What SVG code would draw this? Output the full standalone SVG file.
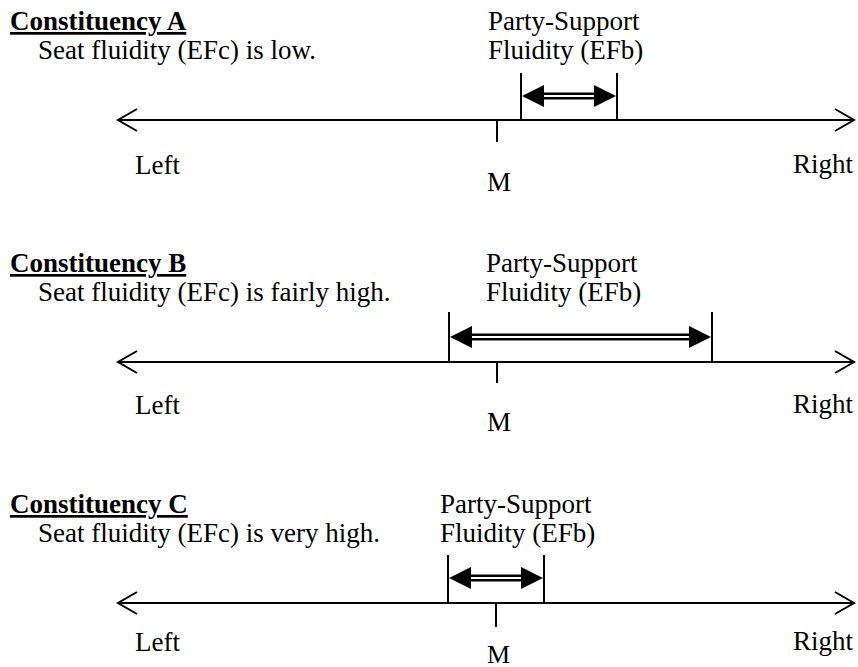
<svg xmlns="http://www.w3.org/2000/svg" width="858" height="667" viewBox="0 0 858 667">
  <style>
    text { font-family: "Liberation Serif", "Times New Roman", serif; font-size: 27px; fill: #000; }
    .head { font-weight: bold; text-decoration: underline; }
    .axis { stroke: #000; stroke-width: 2; fill: none; }
    .chev { stroke: #000; stroke-width: 2; fill: none; }
    .bar { stroke: #000; stroke-width: 2; }
    .shaft { stroke: #000; stroke-width: 7; }
    .gap { stroke: #fff; stroke-width: 2; }
    .tip { fill: #000; }
  </style>
  <rect width="858" height="667" fill="#fff"/>

  <!-- Constituency A -->
  <g id="panel-a">
    <text class="head" x="10" y="30">Constituency A</text>
    <text x="38" y="59">Seat fluidity (EFc) is low.</text>
    <text x="488" y="30">Party-Support</text>
    <text x="488" y="59">Fluidity (EFb)</text>
    <text x="135" y="174">Left</text>
    <text x="487" y="191">M</text>
    <text x="793" y="173">Right</text>
  </g>

  <!-- Constituency B -->
  <g id="panel-b">
    <text class="head" x="10" y="272">Constituency B</text>
    <text x="38" y="301">Seat fluidity (EFc) is fairly high.</text>
    <text x="486" y="272">Party-Support</text>
    <text x="486" y="301">Fluidity (EFb)</text>
    <text x="135" y="414">Left</text>
    <text x="487" y="431">M</text>
    <text x="793" y="413">Right</text>
  </g>

  <!-- Constituency C -->
  <g id="panel-c">
    <text class="head" x="10" y="513">Constituency C</text>
    <text x="38" y="542">Seat fluidity (EFc) is very high.</text>
    <text x="440" y="513">Party-Support</text>
    <text x="440" y="542">Fluidity (EFb)</text>
    <text x="135" y="651">Left</text>
    <text x="487" y="663" style="font-size:26px">M</text>
    <text x="793" y="650">Right</text>
  </g>

  <g id="connectors">
    <!-- axis A -->
    <line class="axis" x1="118" y1="120" x2="854" y2="120"/>
    <polyline class="chev" points="137,109 118,120 137,131"/>
    <polyline class="chev" points="835,109 854,120 835,131"/>
    <line class="bar" x1="497" y1="120" x2="497" y2="142"/>
    <line class="bar" x1="521" y1="73" x2="521" y2="120"/>
    <line class="bar" x1="617" y1="73" x2="617" y2="120"/>
    <line class="shaft" x1="538" y1="96" x2="600" y2="96"/>
    <line class="gap" x1="542" y1="96" x2="596" y2="96"/>
    <polygon class="tip" points="522,96 544,85 544,107"/>
    <polygon class="tip" points="616,96 594,85 594,107"/>

    <!-- axis B -->
    <line class="axis" x1="118" y1="362" x2="854" y2="362"/>
    <polyline class="chev" points="137,351 118,362 137,373"/>
    <polyline class="chev" points="835,351 854,362 835,373"/>
    <line class="bar" x1="497" y1="362" x2="497" y2="383"/>
    <line class="bar" x1="449" y1="312" x2="449" y2="362"/>
    <line class="bar" x1="712" y1="312" x2="712" y2="362"/>
    <line class="shaft" x1="466" y1="337" x2="695" y2="337"/>
    <line class="gap" x1="470" y1="337" x2="691" y2="337"/>
    <polygon class="tip" points="450,337 472,326 472,348"/>
    <polygon class="tip" points="711,337 689,326 689,348"/>

    <!-- axis C -->
    <line class="axis" x1="118" y1="603" x2="854" y2="603"/>
    <polyline class="chev" points="137,592 118,603 137,614"/>
    <polyline class="chev" points="835,592 854,603 835,614"/>
    <line class="bar" x1="496" y1="603" x2="496" y2="627"/>
    <line class="bar" x1="448" y1="555" x2="448" y2="603"/>
    <line class="bar" x1="544" y1="555" x2="544" y2="603"/>
    <line class="shaft" x1="465" y1="578" x2="527" y2="578"/>
    <line class="gap" x1="469" y1="578" x2="523" y2="578"/>
    <polygon class="tip" points="449,578 471,567 471,589"/>
    <polygon class="tip" points="543,578 521,567 521,589"/>
  </g>
</svg>
